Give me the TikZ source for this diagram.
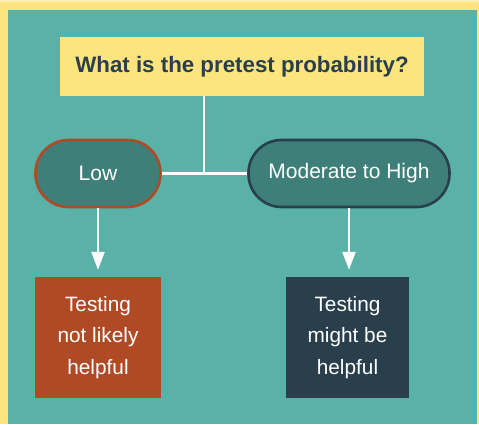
\documentclass[tikz,border=0pt]{standalone}
\usepackage{fontspec}
\setmainfont{Liberation Sans}
\usetikzlibrary{arrows.meta}

\definecolor{frameyellow}{HTML}{FCE57E}
\definecolor{framelight}{HTML}{FDF0B4}
\definecolor{teal}{HTML}{59B1A7}
\definecolor{pilltel}{HTML}{3E7F79}
\definecolor{rust}{HTML}{B04A25}
\definecolor{slate}{HTML}{2A3F4C}

\tikzset{
  question/.style={rectangle, fill=frameyellow, text=slate, minimum width=364pt,
    minimum height=59pt, inner sep=0pt, font=\fontsize{22.3}{26}\selectfont\bfseries},
  pill/.style={rectangle, rounded corners=33pt, fill=pilltel, line width=2.6pt,
    minimum height=67pt, inner sep=0pt, text=white, font=\fontsize{21}{25}\selectfont},
  outcome/.style={rectangle, minimum height=121pt, inner sep=0pt, text=white,
    align=center, font=\fontsize{20.8}{31.5}\selectfont},
  link/.style={draw=white, line width=2.6pt},
  flow/.style={link, -{Triangle[width=13pt,length=18pt]}, shorten >=7pt}
}

\begin{document}
\begin{tikzpicture}[x=1pt,y=-1pt]
  % frame and background
  \useasboundingbox (0,0) rectangle (479,424);
  \fill[frameyellow] (0,0) rectangle (479,424);
  \fill[framelight] (0,0) rectangle (479,1.5);
  \fill[teal] (8,10) rectangle (477,424);

  % nodes
  \node[question] (q) at (242,66.5) {What is the pretest probability?};
  \node[pill, draw=rust, minimum width=125pt] (low) at (98,173.5) {Low};
  \node[pill, draw=slate, minimum width=201pt] (mod) at (349,173.5) {Moderate to High};
  \node[outcome, fill=rust, minimum width=126pt] (lowres) at (98,337.5)
    {Testing\\not likely\\helpful};
  \node[outcome, fill=slate, minimum width=123pt] (modres) at (347.5,337.5)
    {Testing\\might be\\helpful};

  % connectors
  \coordinate (j) at (204,173.5);
  \draw[link] (low.east) -- (mod.west);
  \draw[link] (j) -- (j |- q.south);
  \draw[flow] (low.south) -- (low.south |- lowres.north);
  \draw[flow] (mod.south) -- (mod.south |- modres.north);
\end{tikzpicture}
\end{document}
